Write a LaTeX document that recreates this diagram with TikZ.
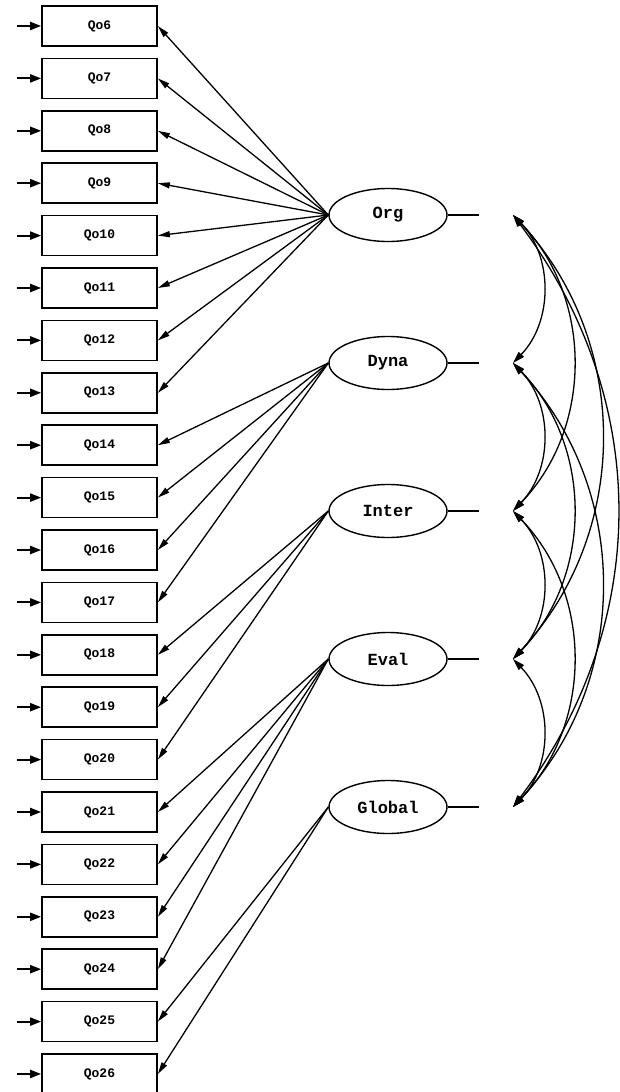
\documentclass[tikz,border=0pt]{standalone}
\usepackage{fontspec}
\setmonofont{Liberation Mono}
\usetikzlibrary{arrows.meta,shapes.geometric}
\begin{document}
\begin{tikzpicture}[x=1pt,y=1pt,
  itembox/.style={draw, line width=1.7pt, minimum width=115pt, minimum height=40pt,
    inner sep=0pt, font=\ttfamily\bfseries\fontsize{13}{13}\selectfont},
  latent/.style={draw, ellipse, line width=1.4pt, minimum width=118pt, minimum height=53pt,
    inner sep=0pt, font=\ttfamily\bfseries\fontsize{17}{17}\selectfont},
  load/.style={line width=1.3pt, -{Triangle[length=12pt,width=6pt]}},
  err/.style={line width=2pt, -{Triangle[length=11pt,width=8pt]}},
  cov/.style={line width=1.3pt, {Triangle[length=12pt,width=7pt]}-{Triangle[length=12pt,width=7pt]}},
  stub/.style={line width=1.3pt}
]
\useasboundingbox (0,0) rectangle (619,-1092);

% observed indicators with their error arrows
\foreach \k in {6,...,26} {
  \pgfmathsetmacro{\yy}{-26-(\k-6)*52.4}
  \node[itembox] (b\k) at (99.5,\yy) {Qo\k};
  \coordinate (e\k) at (17,\yy);
  \draw[err] (e\k) -- (b\k.west);
}

% latent factors
\node[latent] (org) at (388,-215) {Org};
\node[latent] (dyna) at (388,-363) {Dyna};
\node[latent] (inter) at (388,-511) {Inter};
\node[latent] (eval) at (388,-659) {Eval};
\node[latent] (glob) at (388,-807) {Global};

% short stubs to the right of each factor
\foreach \f/\y in {org/215,dyna/363,inter/511,eval/659,glob/807} {
  \coordinate (s\f) at (479,-\y);
  \draw[stub] (\f.east) -- (s\f);
  \coordinate (c\f) at (513,-\y);
}

% factor loadings
\foreach \k in {6,...,13} \draw[load] (org.west) -- (b\k.east);
\foreach \k in {14,...,17} \draw[load] (dyna.west) -- (b\k.east);
\foreach \k in {18,...,20} \draw[load] (inter.west) -- (b\k.east);
\foreach \k in {21,...,24} \draw[load] (eval.west) -- (b\k.east);
\foreach \k in {25,26} \draw[load] (glob.west) -- (b\k.east);

% factor covariances
\draw[cov] (corg) to[bend left=44] (cdyna);
\draw[cov] (cdyna) to[bend left=44] (cinter);
\draw[cov] (cinter) to[bend left=44] (ceval);
\draw[cov] (ceval) to[bend left=44] (cglob);
\draw[cov] (corg) to[bend left=44] (cinter);
\draw[cov] (cdyna) to[bend left=44] (ceval);
\draw[cov] (cinter) to[bend left=44] (cglob);
\draw[cov] (corg) to[bend left=43] (ceval);
\draw[cov] (cdyna) to[bend left=43] (cglob);
\draw[cov] (corg) to[bend left=37] (cglob);
\end{tikzpicture}
\end{document}
